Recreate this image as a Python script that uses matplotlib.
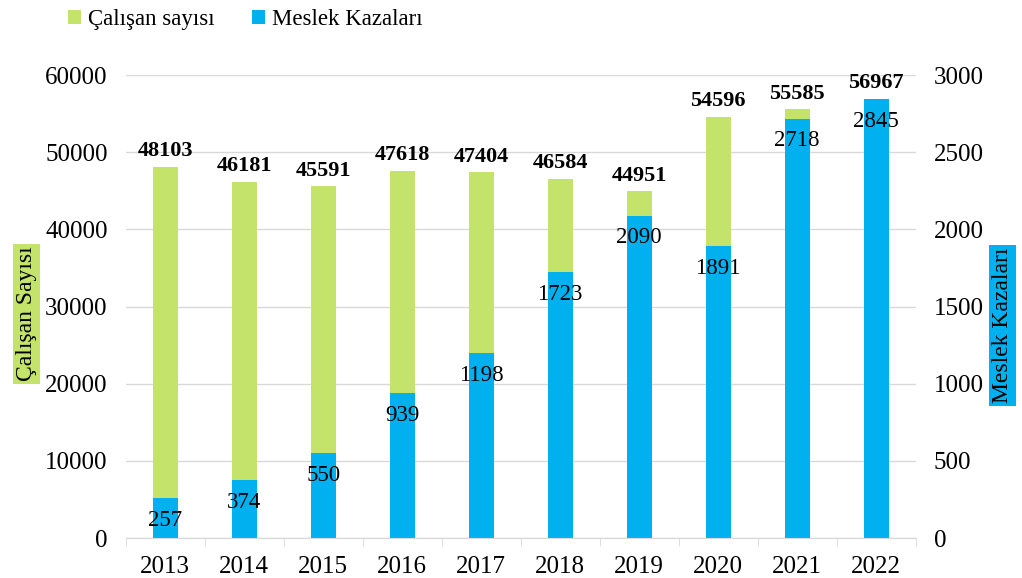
import matplotlib.pyplot as plt
import numpy as np

years = ['2013', '2014', '2015', '2016', '2017', '2018', '2019', '2020', '2021', '2022']
calisan = [48103, 46181, 45591, 47618, 47404, 46584, 44951, 54596, 55585, 56967]
kaza = [257, 374, 550, 939, 1198, 1723, 2090, 1891, 2718, 2845]

green = '#C4E36B'
blue = '#00B0EF'

plt.rcParams['font.family'] = ['Liberation Serif', 'DejaVu Serif']
plt.rcParams['font.size'] = 18

fig = plt.figure(figsize=(10.22, 5.78), dpi=100)
ax = fig.add_axes([0.123, 0.069, 0.773, 0.801])
ax2 = ax.twinx()

x = np.arange(len(years))
w = 0.32

ax.bar(x, calisan, w, color=green, zorder=2, label='Çalışan sayısı')
ax2.bar(x, kaza, w, color=blue, zorder=2, label='Meslek Kazaları')

ax.set_ylim(0, 60000)
ax2.set_ylim(0, 3000)
ax.set_xlim(-0.5, len(years) - 0.5)
ax.set_yticks(range(0, 60001, 10000))
ax2.set_yticks(range(0, 3001, 500))
ax.grid(axis='y', color='#D9D9D9', lw=1, zorder=0)
ax.set_axisbelow(True)

for a in (ax, ax2):
    for s in ('top', 'left', 'right'):
        a.spines[s].set_visible(False)
    a.spines['bottom'].set_color('#D9D9D9')
    a.tick_params(axis='y', length=0, pad=13)

ax.set_xticks(x)
ax.set_xticklabels(years)
ax.set_xticks(np.arange(-0.5, len(years)), minor=True)
ax.tick_params(axis='x', which='major', length=0, pad=13)
ax.tick_params(axis='x', which='minor', length=6, color='#D9D9D9')

for i, v in enumerate(calisan):
    ax.annotate(str(v), (x[i], v), xytext=(0, 4), textcoords='offset points',
                ha='center', va='bottom', fontweight='bold', fontsize=16)
for i, v in enumerate(kaza):
    ax2.annotate(str(v), (x[i], v), xytext=(0, -16), textcoords='offset points',
                 ha='center', va='center', fontsize=16.5, zorder=5)

# axis titles in coloured boxes
fig.text(0.026, 0.457, 'Çalışan Sayısı', rotation=90, ha='center', va='center',
         fontsize=17, bbox=dict(facecolor=green, edgecolor='none', pad=2))
fig.text(0.981, 0.437, 'Meslek Kazaları', rotation=90, ha='center', va='center',
         fontsize=17, bbox=dict(facecolor=blue, edgecolor='none', pad=2))

h1, l1 = ax.get_legend_handles_labels()
h2, l2 = ax2.get_legend_handles_labels()
fig.legend(h1 + h2, l1 + l2, loc='upper left', bbox_to_anchor=(0.046, 1.02),
           ncol=2, frameon=False, handlelength=0.6, handleheight=0.6,
           handletextpad=0.3, columnspacing=1.6, fontsize=16.5)

fig.savefig('out.png', dpi=100)
